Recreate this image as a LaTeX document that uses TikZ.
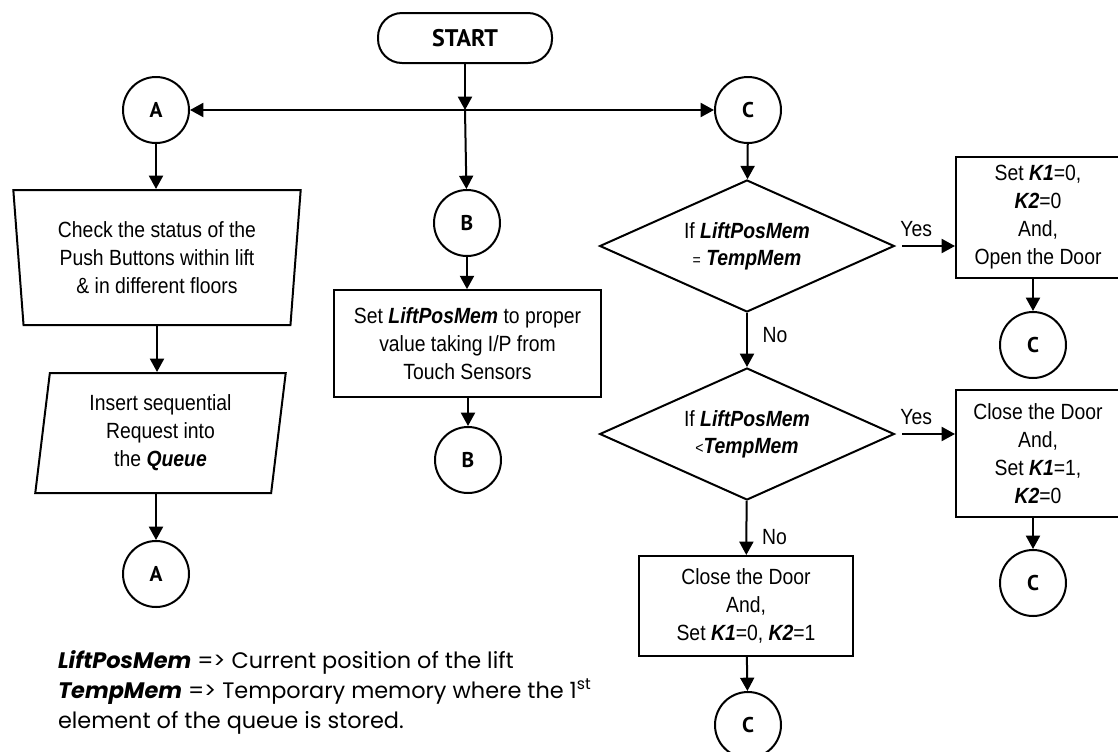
\documentclass[tikz,border=0pt]{standalone}
\usepackage{fontspec}
\setmainfont{Liberation Sans}[FakeStretch=0.88]
\newfontfamily\gotico{Poppins}
\newfontfamily\lettera{PT Sans}
\usetikzlibrary{shapes.geometric,arrows.meta,positioning}

\newcommand{\evid}[1]{\textbf{\textit{#1}}}

\tikzset{
    testo/.style={font=\fontsize{16.5}{21}\selectfont, align=center},
    connettore/.style={circle, draw, minimum size=49.5pt, inner sep=0pt,
        font=\lettera\bfseries\fontsize{16}{18}\selectfont},
    blocco/.style={rectangle, draw, inner sep=0pt, testo},
    decisione/.style={diamond, draw, aspect=2.2, minimum width=221pt,
        minimum height=99pt, inner sep=0pt, testo, font=\fontsize{16.5}{20}\selectfont},
    risposta/.style={font=\fontsize{16.5}{20}\selectfont, inner sep=1pt},
    legenda/.style={anchor=base west, inner sep=0pt, font=\gotico\fontsize{16.8}{22}\selectfont}
}

\begin{document}
\begin{tikzpicture}[x=0.75pt, y=-0.75pt, line width=1.5pt,
    >={Triangle[length=10pt, width=10.5pt]}]
    % cornice
    \useasboundingbox (0,0) rectangle (1118,751);

    % inizio e connettori in alto
    \node[blocco, rounded corners=18pt, minimum width=130.5pt, minimum height=37.5pt,
        font=\lettera\bfseries\fontsize{18}{20}\selectfont] (inizio) at (465,38) {START};
    \coordinate (giunzione) at (465,110);
    \node[connettore] (cerchioA) at (156,110) {A};
    \node[connettore] (cerchioB) at (467,223) {B};
    \node[connettore] (cerchioC) at (748,110) {C};

    % ramo A
    \node[trapezium, draw, trapezium angle=84, shape border rotate=180,
        trapezium stretches=true, minimum width=216pt, minimum height=101.25pt,
        inner sep=0pt, testo] (pulsanti) at (157,257.5)
        {Check the status of the\\Push Buttons within lift\\\& in different floors};
    \node[trapezium, draw, trapezium left angle=83, trapezium right angle=97,
        trapezium stretches=true, minimum width=188pt, minimum height=90pt,
        inner sep=0pt, testo] (coda) at (160.5,433)
        {Insert sequential\\Request into\\the \evid{Queue}};
    \node[connettore] (cerchioA2) at (156,574) {A};

    % ramo B
    \node[blocco, minimum width=200pt, minimum height=80pt] (posizione) at (467.5,343.5)
        {Set \evid{LiftPosMem} to proper\\value taking I/P from\\Touch Sensors};
    \node[connettore] (cerchioB2) at (468,460) {B};

    % ramo C
    \node[decisione] (uguale) at (747,246)
        {If \evid{LiftPosMem}\\{\fontsize{12}{12}\selectfont=} \evid{TempMem}};
    \node[decisione] (minore) at (747,434)
        {If \evid{LiftPosMem}\\{\fontsize{12}{12}\selectfont<}\evid{TempMem}};
    \node[blocco, minimum width=123pt, minimum height=90.75pt] (apri) at (1038,217.5)
        {Set \evid{K1}=0,\\\evid{K2}=0\\And,\\Open the Door};
    \node[connettore] (cerchioC1) at (1033,345) {C};
    \node[blocco, minimum width=123pt, minimum height=95.25pt] (chiudi) at (1038,453.5)
        {Close the Door\\And,\\Set \evid{K1}=1,\\\evid{K2}=0};
    \node[connettore] (cerchioC2) at (1033,583) {C};
    \node[blocco, minimum width=160.5pt, minimum height=75pt] (ferma) at (746,606)
        {Close the Door\\And,\\Set \evid{K1}=0, \evid{K2}=1};
    \node[connettore] (cerchioC3) at (748,725) {C};

    % frecce
    \draw[->] (inizio) -- (giunzione);
    \draw[->] (giunzione) -- (cerchioA);
    \draw[->] (giunzione) -- (cerchioC);
    \draw[->] (giunzione) -- (cerchioB);
    \draw[->] (cerchioA) -- (cerchioA |- pulsanti.north);
    \draw[->] (pulsanti.south) -- (pulsanti.south |- coda.north);
    \draw[->] (cerchioA2 |- coda.south) -- (cerchioA2);
    \draw[->] (cerchioB) -- (cerchioB |- posizione.north);
    \draw[->] (cerchioB2 |- posizione.south) -- (cerchioB2);
    \draw[->] (cerchioC) -- (uguale);
    \draw[->] (uguale) -- node[risposta, right, pos=0.4, xshift=10pt] (no1) {No} (minore);
    \draw[->, shorten <=5pt] (uguale.east) -- node[risposta, above, pos=0.35, yshift=5pt] (si1) {Yes}
        (apri.west |- uguale.east);
    \draw[->] (cerchioC1 |- apri.south) -- (cerchioC1);
    \draw[->, shorten <=5pt] (minore.east) -- node[risposta, above, pos=0.35, yshift=5pt] (si2) {Yes}
        (chiudi.west |- minore.east);
    \draw[->] (cerchioC2 |- chiudi.south) -- (cerchioC2);
    \draw[->] (minore) -- node[risposta, right, pos=0.66, xshift=10pt] (no2) {No} (ferma);
    \draw[->] (ferma) -- (cerchioC3);

    % legenda
    \node[legenda] (leg1) at (57,668) {\evid{LiftPosMem} => Current position of the lift};
    \node[legenda] (leg2) at (57,698) {\evid{TempMem} => Temporary memory where the 1\textsuperscript{st}};
    \node[legenda] (leg3) at (57,728) {element of the queue is stored.};
\end{tikzpicture}
\end{document}
